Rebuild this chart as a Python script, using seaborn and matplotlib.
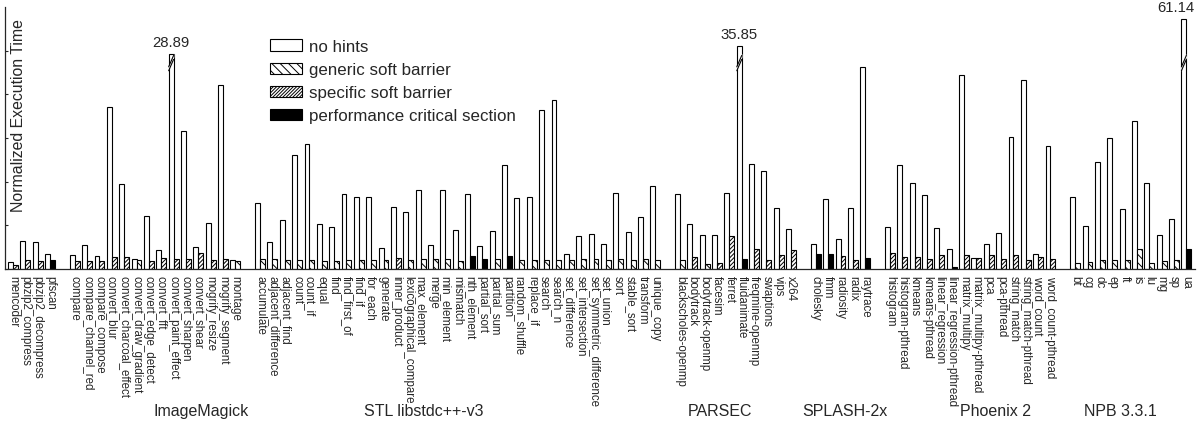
import numpy as np
import pandas as pd
import matplotlib
matplotlib.use("Agg")
import matplotlib.pyplot as plt
from matplotlib.patches import Patch, Polygon
import seaborn as sns

# ---------------- data ----------------
# hint kinds: G = generic soft barrier, S = specific soft barrier, P = performance critical section
misc_names = ["mencoder", "pbzip2_compress", "pbzip2_decompress", "pfscan"]
misc_no_hints = [0.8, 3.2, 3.1, 1.68]
misc_hints = [0.5, 1.03, 0.95, 1.0]
misc_kinds = ["S", "S", "S", "P"]

imagemagick_names = ["compare", "compare_channel_red", "compare_compose", "convert_blur",
                     "convert_charcoal_effect", "convert_draw_gradient", "convert_edge_detect",
                     "convert_fft", "convert_paint_effect", "convert_sharpen", "convert_shear",
                     "mogrify_resize", "mogrify_segment", "montage"]
imagemagick_no_hints = [1.56, 2.7, 1.45, 18.5, 9.7, 1.1, 6.1, 2.2, 28.89, 15.8, 2.5, 5.3, 21.1, 1.03]
imagemagick_hints = [0.95, 0.95, 0.95, 1.4, 1.37, 1.03, 0.95, 1.26, 1.1, 1.1, 1.8, 1.03, 1.1, 0.95]
imagemagick_kinds = ["S", "S", "S", "S", "S", "G", "S", "S", "S", "S", "S", "S", "S", "G"]

stl_names = ["accumulate", "adjacent_difference", "adjacent_find", "count", "count_if", "equal",
             "find", "find_first_of", "find_if", "for_each", "generate", "inner_product",
             "lexicographical_compare", "max_element", "merge", "min_element", "mismatch",
             "nth_element", "partial_sort", "partial_sum", "partition", "random_shuffle",
             "replace_if", "search", "search_n", "set_difference", "set_intersection",
             "set_symmetric_difference", "set_union", "sort", "stable_sort", "transform",
             "unique_copy"]
stl_no_hints = [7.56, 3.13, 5.6, 13.05, 14.3, 5.15, 4.8, 8.55, 8.3, 8.3, 2.4, 7.1, 6.5, 9.0, 2.8,
                9.0, 4.5, 8.55, 2.67, 4.4, 11.9, 8.1, 8.25, 18.2, 19.4, 1.68, 3.8, 3.97, 2.86,
                8.7, 4.2, 5.95, 9.5]
stl_hints = [1.1, 1.1, 1.03, 1.03, 1.03, 0.95, 0.95, 1.03, 1.03, 1.03, 1.03, 1.26, 1.03, 1.1, 1.1,
             1.1, 0.95, 1.5, 1.15, 1.1, 1.5, 1.03, 1.03, 1.03, 1.03, 1.03, 1.1, 1.1, 1.03, 1.1,
             1.03, 1.1, 1.03]
stl_kinds = ["G"] * 11 + ["S"] + ["G"] * 5 + ["P", "P", "G", "P"] + ["G"] * 12

parsec_names = ["blackscholes-openmp", "bodytrack", "bodytrack-openmp", "facesim", "ferret",
                "fluidanimate", "freqmine-openmp", "swaptions", "vips", "x264"]
parsec_no_hints = [8.55, 5.1, 3.85, 3.93, 8.75, 35.85, 12.0, 11.2, 6.95, 4.58]
parsec_hints = [1.03, 1.34, 0.57, 0.73, 3.78, 1.15, 2.3, 1.03, 1.56, 2.18]
parsec_kinds = ["G", "S", "G", "S", "S", "P", "S", "S", "S", "S"]

splash_names = ["cholesky", "fmm", "radiosity", "radix", "raytrace"]
splash_no_hints = [2.82, 8.0, 3.43, 6.95, 23.1]
splash_hints = [1.72, 1.72, 1.45, 1.03, 1.26]
splash_kinds = ["P", "P", "S", "S", "P"]

phoenix_names = ["histogram", "histogram-pthread", "kmeans", "kmeans-pthread", "linear_regression",
                 "linear_regression-pthread", "matrix_multipy", "matrix_multipy-pthread", "pca",
                 "pca-pthread", "string_match", "string_match-pthread", "word_count",
                 "word_count-pthread"]
phoenix_no_hints = [4.77, 11.9, 9.9, 8.5, 4.7, 2.33, 22.2, 1.3, 2.82, 4.12, 15.1, 21.6, 1.68, 14.05]
phoenix_hints = [1.87, 1.37, 1.37, 1.15, 1.56, 0.27, 1.6, 1.26, 1.6, 1.15, 1.6, 1.03, 1.37, 1.15]
phoenix_kinds = ["S", "S", "S", "S", "S", "P", "S", "S", "S", "S", "S", "S", "S", "S"]

npb_names = ["bt", "cg", "dc", "ep", "ft", "is", "lu", "mg", "sp", "ua"]
npb_no_hints = [8.3, 4.92, 12.2, 15.0, 6.87, 16.9, 9.8, 3.9, 5.7, 61.14]
npb_hints = [0.69, 0.76, 1.07, 1.03, 1.03, 2.3, 0.69, 0.92, 1.03, 2.3]
npb_kinds = ["G"] * 9 + ["P"]

group_labels = ["", "ImageMagick", "STL libstdc++-v3", "PARSEC", "SPLASH-2x", "Phoenix 2", "NPB 3.3.1"]

# bars drawn broken (true value printed above)
broken_shown = {"convert_paint_effect": 24.6, "fluidanimate": 25.5, "ua": 28.6}

series_labels = ["no hints", "generic soft barrier", "specific soft barrier", "performance critical section"]

# ---------------- assemble ----------------
groups = [
    (misc_names, misc_no_hints, misc_hints, misc_kinds),
    (imagemagick_names, imagemagick_no_hints, imagemagick_hints, imagemagick_kinds),
    (stl_names, stl_no_hints, stl_hints, stl_kinds),
    (parsec_names, parsec_no_hints, parsec_hints, parsec_kinds),
    (splash_names, splash_no_hints, splash_hints, splash_kinds),
    (phoenix_names, phoenix_no_hints, phoenix_hints, phoenix_kinds),
    (npb_names, npb_no_hints, npb_hints, npb_kinds),
]
rows = []
slot = 0
for names, nh, h, k in groups:
    for n, a, b, c in zip(names, nh, h, k):
        rows.append(dict(name=n, slot=slot, nohint=a, hint=b, kind=c))
        slot += 1
    slot += 1
df = pd.DataFrame(rows)
df["shown"] = [broken_shown.get(n, v) for n, v in zip(df["name"], df["nohint"])]

# ---------------- style ----------------
sns.set_style("ticks")
plt.rcParams["font.family"] = ["Liberation Sans", "DejaVu Sans"]
plt.rcParams["hatch.linewidth"] = 0.7
plt.rcParams["hatch.color"] = "black"

W, H = 1204, 427
fig = plt.figure(figsize=(W / 100, H / 100), dpi=100)
ax = fig.add_axes([5 / W, 1 - 270 / H, 1190 / W, 262 / H])

BW = 0.4
nh_df = pd.DataFrame({"pos": df["slot"] - BW / 2, "value": df["shown"]})
sns.barplot(data=nh_df, x="pos", y="value", native_scale=True, width=BW, color="white",
            saturation=1, edgecolor="black", linewidth=0.8, errorbar=None, ax=ax)
n_before = len(ax.patches)
h_df = pd.DataFrame({"pos": df["slot"] + BW / 2, "value": df["hint"]})
sns.barplot(data=h_df, x="pos", y="value", native_scale=True, width=BW, color="white",
            saturation=1, edgecolor="black", linewidth=0.8, errorbar=None, ax=ax)

hatch_map = {"G": "\\\\\\\\", "S": "////////", "P": None}
kind_by_pos = {round(p, 2): k for p, k in zip(h_df["pos"], df["kind"])}
for patch in ax.patches[n_before:]:
    c = round(patch.get_x() + patch.get_width() / 2, 2)
    k = kind_by_pos.get(c)
    if k == "P":
        patch.set_facecolor("black")
    elif k is not None:
        patch.set_hatch(hatch_map[k])

# broken bars: break mark and value label
for _, r in df[df["name"].isin(list(broken_shown))].iterrows():
    xc = r["slot"] - BW / 2
    xl, xr = xc - BW / 2, xc + BW / 2
    y0, rise, gap = 22.7, 1.3, 0.45
    ext = 0.06
    poly = Polygon([(xl - ext, y0 - rise * ext / BW), (xr + ext, y0 + rise + rise * ext / BW),
                    (xr + ext, y0 + rise + gap + rise * ext / BW), (xl - ext, y0 + gap - rise * ext / BW)],
                   closed=True, facecolor="white", edgecolor="none", zorder=5)
    ax.add_patch(poly)
    ax.plot([xl, xr], [y0, y0 + rise], color="black", lw=0.8, zorder=6)
    ax.plot([xl, xr], [y0 + gap, y0 + rise + gap], color="black", lw=0.8, zorder=6)
    dx = -6 if r["name"] == "ua" else 0
    ax.annotate(f"{r['nohint']:.2f}", xy=(xc, r["shown"]), xytext=(dx, 4),
                textcoords="offset points", ha="center", va="bottom", fontsize=10.7)

# axes
ax.set_xlim(-0.65, 95.7)
ax.set_ylim(0, 30)
ax.set_yticks([0, 5, 10, 15, 20, 25])
ax.set_yticklabels([])
ax.tick_params(axis="y", direction="in", length=2.5, width=0.8)
ax.set_xticks(df["slot"].to_numpy(dtype=float))
ax.set_xticklabels(df["name"], rotation=270, fontsize=8.3, ha="center", va="top")
ax.tick_params(axis="x", length=0, pad=4.5)
ax.set_xlabel("")
ax.set_ylabel("")
for s in ["top", "right"]:
    ax.spines[s].set_visible(False)
for s in ["left", "bottom"]:
    ax.spines[s].set_linewidth(0.9)

fig.text(19 / W, 1 - 116 / H, "Normalized Execution Time", rotation=90, ha="center",
         va="center", fontsize=11.4)

# group labels
group_label_px = [None, 201, 424, 720, 845, 996, 1120]
for lab, px in zip(group_labels, group_label_px):
    if lab:
        fig.text(px / W, 1 - 412 / H, lab, ha="center", va="center", fontsize=11.5)

handles = [
    Patch(facecolor="white", edgecolor="black", linewidth=0.8, label=series_labels[0]),
    Patch(facecolor="white", edgecolor="black", linewidth=0.8, hatch="\\\\\\\\", label=series_labels[1]),
    Patch(facecolor="white", edgecolor="black", linewidth=0.8, hatch="//////////", label=series_labels[2]),
    Patch(facecolor="black", edgecolor="black", linewidth=0.8, label=series_labels[3]),
]
ax.legend(handles=handles, loc="upper left", bbox_to_anchor=(270 / W, 1 - 40 / H),
          bbox_transform=fig.transFigure, frameon=False, fontsize=12.2, handlelength=1.9,
          handleheight=0.65, handletextpad=0.4, labelspacing=0.48, borderpad=0, borderaxespad=0)

fig.savefig("out.png", dpi=100)
